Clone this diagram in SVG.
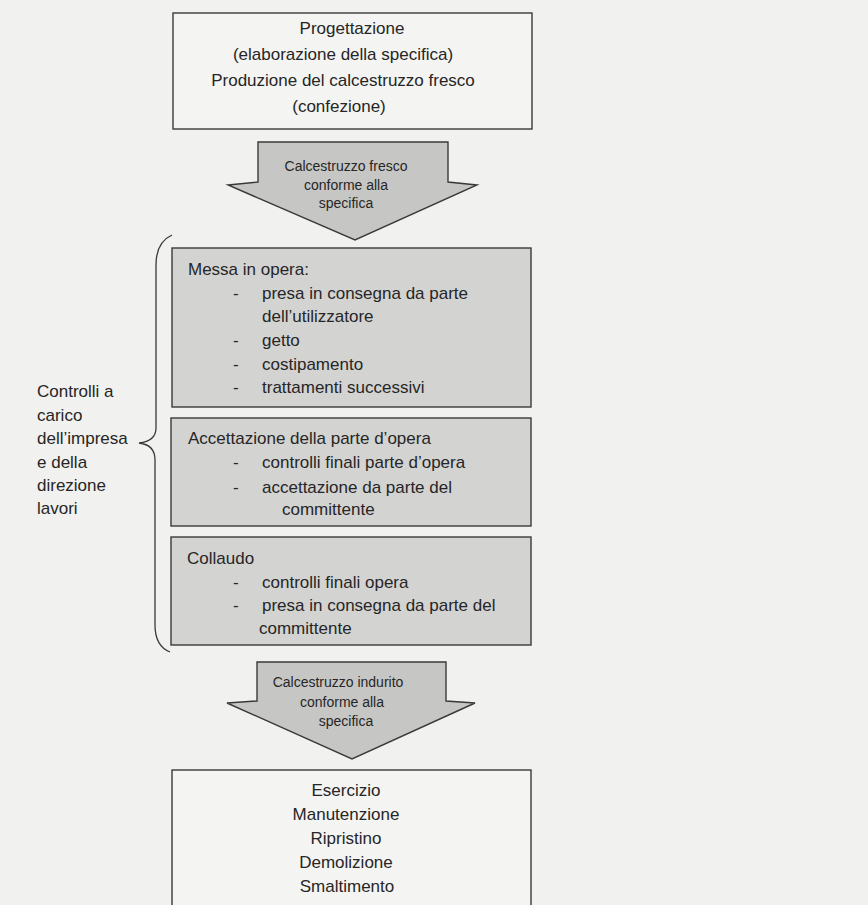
<svg xmlns="http://www.w3.org/2000/svg" width="868" height="905" viewBox="0 0 868 905">
  <style>
    .bg { fill: #f1f1ef; }
    .box { stroke: #3a3a3a; stroke-width: 1.4; }
    .white { fill: #f4f4f2; }
    .grey { fill: #d3d3d2; }
    .arrow { fill: #c6c6c5; stroke: #3a3a3a; stroke-width: 1.4; stroke-linejoin: miter; }
    .brace { fill: none; stroke: #3a3a3a; stroke-width: 1.3; }
    text { font-family: "Liberation Sans", Arial, sans-serif; fill: #262626; }
    .t17 { font-size: 17px; }
    .t14 { font-size: 14px; }
    .c { text-anchor: middle; }
  </style>
  <rect class="bg" x="0" y="0" width="868" height="905"/>

  <g id="connectors">
    <g id="arrow1">
      <path class="arrow" d="M258,142 H448 V182 L477,185 L355,240 L228,185 L258,182 Z"/>
      <text class="t14 c" x="346" y="171">Calcestruzzo fresco</text>
      <text class="t14 c" x="346" y="190">conforme alla</text>
      <text class="t14 c" x="346" y="208">specifica</text>
    </g>
    <g id="arrow2">
      <path class="arrow" d="M257,662 H446 V701 L475,703 L352,759 L227,703 L257,701 Z"/>
      <text class="t14 c" x="338" y="687">Calcestruzzo indurito</text>
      <text class="t14 c" x="342" y="707">conforme alla</text>
      <text class="t14 c" x="346" y="726">specifica</text>
    </g>
    <path id="brace" class="brace" d="M172,235 C161,240 156,250 156,265 V428 C156,438 148,442 139,443 C148,444 155,449 155,460 V625 C155,640 160,648 170,652"/>
  </g>

  <g id="progettazione">
    <rect class="box white" x="173" y="13" width="359" height="116"/>
    <text class="t17 c" x="352" y="34">Progettazione</text>
    <text class="t17 c" x="343" y="60">(elaborazione della specifica)</text>
    <text class="t17 c" x="343" y="86">Produzione del calcestruzzo fresco</text>
    <text class="t17 c" x="339" y="112">(confezione)</text>
  </g>

  <g id="messa-in-opera">
    <rect class="box grey" x="172" y="248" width="359" height="159"/>
    <text class="t17" x="188" y="275">Messa in opera:</text>
    <text class="t17" x="233" y="299">-</text>
    <text class="t17" x="262" y="299">presa in consegna da parte</text>
    <text class="t17" x="262" y="322">dell’utilizzatore</text>
    <text class="t17" x="233" y="346">-</text>
    <text class="t17" x="262" y="346">getto</text>
    <text class="t17" x="233" y="370">-</text>
    <text class="t17" x="262" y="370">costipamento</text>
    <text class="t17" x="233" y="393">-</text>
    <text class="t17" x="262" y="393">trattamenti successivi</text>
  </g>

  <g id="accettazione">
    <rect class="box grey" x="171" y="418" width="360" height="108"/>
    <text class="t17" x="188" y="444">Accettazione della parte d’opera</text>
    <text class="t17" x="233" y="468">-</text>
    <text class="t17" x="262" y="468">controlli finali parte d’opera</text>
    <text class="t17" x="233" y="493">-</text>
    <text class="t17" x="262" y="493">accettazione da parte del</text>
    <text class="t17" x="282" y="515">committente</text>
  </g>

  <g id="collaudo">
    <rect class="box grey" x="171" y="537" width="360" height="108"/>
    <text class="t17" x="187" y="564">Collaudo</text>
    <text class="t17" x="233" y="588">-</text>
    <text class="t17" x="262" y="588">controlli finali opera</text>
    <text class="t17" x="233" y="611">-</text>
    <text class="t17" x="262" y="611">presa in consegna da parte del</text>
    <text class="t17" x="259" y="634">committente</text>
  </g>

  <g id="esercizio">
    <rect class="box white" x="172" y="770" width="359" height="145"/>
    <text class="t17 c" x="346" y="796">Esercizio</text>
    <text class="t17 c" x="346" y="820">Manutenzione</text>
    <text class="t17 c" x="346" y="844">Ripristino</text>
    <text class="t17 c" x="346" y="868">Demolizione</text>
    <text class="t17 c" x="347" y="892">Smaltimento</text>
  </g>

  <g id="controlli-label">
    <text class="t17" x="37" y="397">Controlli a</text>
    <text class="t17" x="37" y="421">carico</text>
    <text class="t17" x="37" y="444">dell’impresa</text>
    <text class="t17" x="37" y="468">e della</text>
    <text class="t17" x="37" y="491">direzione</text>
    <text class="t17" x="37" y="514">lavori</text>
  </g>
</svg>
